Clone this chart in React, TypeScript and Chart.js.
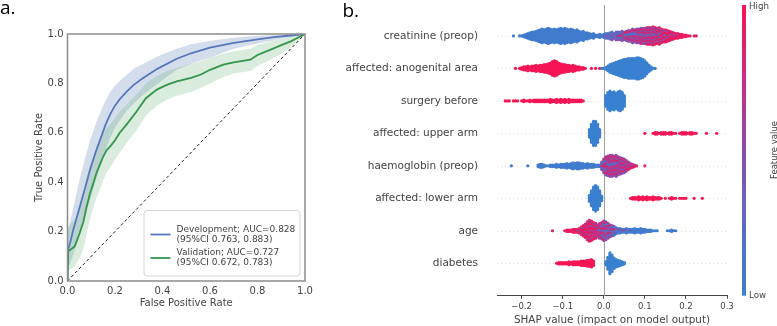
import React, { useEffect, useRef } from "react";
import { Chart, registerables } from "chart.js";

Chart.register(...registerables);

const FONT = "'DejaVu Sans', 'Liberation Sans', sans-serif";

// ---------------- Panel a: ROC curves ----------------
const devFpr = [0, 0, 0.011, 0.025, 0.053, 0.075, 0.095, 0.12, 0.137, 0.16, 0.18, 0.2, 0.22, 0.25, 0.28, 0.32, 0.38, 0.46, 0.52, 0.6, 0.7, 0.8, 0.87, 0.95, 1];
const devTpr = [0, 0.12, 0.155, 0.21, 0.305, 0.38, 0.45, 0.525, 0.571, 0.632, 0.676, 0.71, 0.736, 0.768, 0.795, 0.823, 0.86, 0.9, 0.922, 0.945, 0.964, 0.978, 0.987, 0.995, 1];
const devLo = [0, 0.05, 0.07, 0.11, 0.19, 0.26, 0.33, 0.41, 0.46, 0.53, 0.58, 0.62, 0.65, 0.69, 0.72, 0.755, 0.8, 0.855, 0.88, 0.905, 0.94, 0.962, 0.975, 0.99, 1];
const devHi = [0, 0.2, 0.24, 0.3, 0.42, 0.5, 0.57, 0.64, 0.68, 0.73, 0.765, 0.79, 0.81, 0.835, 0.86, 0.88, 0.91, 0.94, 0.958, 0.973, 0.985, 0.993, 0.996, 0.999, 1];

const valFpr = [0, 0.003, 0.03, 0.05, 0.067, 0.08, 0.095, 0.11, 0.123, 0.14, 0.151, 0.165, 0.18, 0.2, 0.22, 0.25, 0.29, 0.33, 0.376, 0.42, 0.46, 0.52, 0.56, 0.6, 0.656, 0.7, 0.77, 0.8, 0.853, 0.9, 0.94, 0.98, 1];
const valTpr = [0, 0.12, 0.14, 0.19, 0.24, 0.3, 0.355, 0.4, 0.44, 0.48, 0.505, 0.53, 0.545, 0.57, 0.6, 0.635, 0.685, 0.74, 0.775, 0.795, 0.808, 0.822, 0.835, 0.855, 0.876, 0.885, 0.896, 0.915, 0.936, 0.955, 0.97, 0.99, 1];
const valLo = [0, 0.04, 0.06, 0.09, 0.13, 0.19, 0.25, 0.3, 0.34, 0.38, 0.41, 0.44, 0.46, 0.49, 0.52, 0.56, 0.61, 0.67, 0.71, 0.735, 0.75, 0.765, 0.78, 0.8, 0.825, 0.84, 0.85, 0.87, 0.895, 0.92, 0.945, 0.98, 1];
const valHi = [0, 0.22, 0.25, 0.3, 0.36, 0.42, 0.47, 0.51, 0.55, 0.58, 0.6, 0.62, 0.635, 0.66, 0.685, 0.715, 0.755, 0.8, 0.83, 0.85, 0.862, 0.88, 0.89, 0.905, 0.92, 0.93, 0.94, 0.955, 0.97, 0.98, 0.99, 0.998, 1];

const rocTicks = [0, 0.2, 0.4, 0.6, 0.8, 1.0];
const devLegend = ["Development; AUC=0.828", "(95%CI 0.763, 0.883)"];
const valLegend = ["Validation; AUC=0.727", "(95%CI 0.672, 0.783)"];

// ---------------- Panel b: SHAP beeswarm ----------------
const featureNames = [
  "creatinine (preop)",
  "affected: anogenital area",
  "surgery before",
  "affected: upper arm",
  "haemoglobin (preop)",
  "affected: lower arm",
  "age",
  "diabetes",
];
const shapTicks = [-0.2, -0.1, 0.0, 0.1, 0.2, 0.3];
const BIN = 0.005; // SHAP bin width of the count arrays below

// counts of points per SHAP bin, starting at the given SHAP value
const creatLowStart = -0.22;
const creatLow = [1, 0, 0, 1, 1, 2, 3, 4, 5, 6, 6, 7, 8, 9, 10, 9, 10, 11, 10, 9, 10, 9, 10, 11, 10, 11, 10, 9, 10, 9, 8, 9, 7, 6, 7, 5, 5, 4, 3, 4, 2, 2, 3, 2,
  2, 3, 2, 3, 3, 2, 3, 2, 2, 2, 1, 1, 1, 1, 1, 1, 1, 0, 1, 1, 0, 1, 1, 0, 1, 1, 0, 1, 0, 0, 1];
const creatMidStart = 0.0;
const creatMid = [1, 1, 2, 2, 3, 2, 3, 3, 3, 4, 3, 4, 4, 5, 6, 5, 6, 6, 5, 6, 6, 5, 5, 6, 5, 5, 5, 4, 4, 3, 2, 2, 1, 1, 1, 1];
const creatHighStart = 0.0;
const creatHigh = [0, 0, 0, 0, 0, 0, 0, 1, 1, 1, 2, 2, 3, 2, 3, 3, 3, 4, 5, 4, 5, 6, 6, 6, 7, 6, 6, 7, 6, 6, 6, 6, 6, 5, 4, 3, 4, 3, 3, 2, 2, 1, 1, 0, 1, 1];

const anoHighStart = -0.215;
const anoHigh = [1, 0, 1, 2, 3, 3, 4, 3, 4, 4, 5, 4, 5, 5, 6, 6, 7, 8, 10, 11, 10, 8, 7, 6, 6, 5, 5, 4, 5, 4, 3, 3, 2, 2, 1, 0, 0, 1, 0, 1, 0, 1];
const anoLowStart = -0.005;
const anoLow = [1, 1, 2, 4, 6, 7, 8, 9, 10, 11, 12, 13, 13, 14, 14, 14, 14, 15, 15, 14, 13, 11, 8, 5, 3, 1, 1];

const surgHighStart = -0.24;
const surgHigh = [1, 1, 1, 0, 1, 1, 1, 0, 1, 2, 1, 1, 2, 1, 2, 2, 2, 2, 2, 2, 2, 2, 3, 2, 2, 3, 2, 3, 2, 3, 2, 3, 2, 2, 2, 2, 2, 2, 1];
const surgLowStart = 0.005;
const surgLow = [8, 12, 14, 12, 13, 11, 13, 14, 12, 8];

const upperLowStart = -0.035;
const upperLow = [6, 13, 17, 17, 13, 6];
const upperHighStart = 0.1;
const upperHigh = [1, 0, 0, 0, 1, 2, 2, 1, 2, 2, 2, 1, 2, 2, 1, 1, 0, 1, 2, 2, 2, 1, 2, 2, 1, 1, 0, 0, 0, 0, 1, 0, 0, 0, 0, 1];

const haemoLowStart = -0.225;
const haemoLow = [1, 0, 0, 0, 0, 0, 0, 0, 1, 0, 0, 0, 0, 2, 3, 3, 2, 1, 1, 2, 2, 2, 3, 2, 3, 3, 3, 4, 3, 4, 5, 4, 5, 5, 4, 4, 3, 4, 3, 3, 3, 2, 2, 2, 2, 2, 2, 1, 1, 1, 1, 1];
const haemoMidStart = -0.005;
const haemoMid = [3, 5, 7, 8, 8, 9, 8, 9, 8, 8, 7, 6, 5, 3, 2, 1, 1];
const haemoHighStart = -0.005;
const haemoHigh = [1, 3, 4, 5, 6, 5, 5, 5, 5, 4, 4, 4, 3, 3, 2, 2, 1, 1, 0, 0, 0, 1];

const lowerLowStart = -0.035;
const lowerLow = [5, 11, 16, 18, 16, 11, 4];
const lowerHighStart = 0.065;
const lowerHigh = [1, 2, 2, 2, 3, 2, 3, 2, 3, 2, 2, 3, 2, 2, 2, 1, 0, 1, 0, 1, 2, 1, 1, 0, 1, 1, 1, 1, 0, 0, 0, 1, 0, 0, 0, 1];

const ageHighStart = -0.125;
const ageHigh = [1, 0, 0, 0, 0, 0, 1, 2, 2, 2, 3, 3, 2, 3, 4, 6, 7, 9, 10, 9, 7, 6, 4, 4, 4, 4, 3, 2, 2, 1, 1];
const ageMidStart = -0.07;
const ageMid = [0, 1, 1, 2, 2, 3, 4, 5, 5, 5, 5, 5, 6, 6, 7, 7, 6, 5, 4, 3, 2, 1, 1, 1, 1, 1, 0, 1];
const ageLowStart = -0.01;
const ageLow = [1, 2, 3, 3, 3, 2, 3, 3, 3, 3, 3, 2, 2, 3, 3, 2, 3, 4, 3, 3, 4, 3, 3, 2, 2, 2, 1, 1, 1, 0, 0, 0, 0, 1, 1, 2, 1, 1];

const diabHighStart = -0.115;
const diabHigh = [1, 2, 2, 2, 2, 2, 3, 2, 3, 3, 3, 3, 4, 4, 4, 5, 5, 6, 4];
const diabLowStart = 0.005;
const diabLow = [3, 9, 15, 12, 8, 6, 5, 4, 3, 2];

// row index, normalised feature value, start, counts
const groups = [
  { row: 0, fv: 0.05, start: creatLowStart, counts: creatLow },
  { row: 0, fv: 0.48, start: creatMidStart, counts: creatMid },
  { row: 0, fv: 0.92, start: creatHighStart, counts: creatHigh },
  { row: 1, fv: 1, start: anoHighStart, counts: anoHigh },
  { row: 1, fv: 0, start: anoLowStart, counts: anoLow },
  { row: 2, fv: 1, start: surgHighStart, counts: surgHigh },
  { row: 2, fv: 0, start: surgLowStart, counts: surgLow },
  { row: 3, fv: 0, start: upperLowStart, counts: upperLow },
  { row: 3, fv: 1, start: upperHighStart, counts: upperHigh },
  { row: 4, fv: 0.05, start: haemoLowStart, counts: haemoLow },
  { row: 4, fv: 0.5, start: haemoMidStart, counts: haemoMid },
  { row: 4, fv: 0.92, start: haemoHighStart, counts: haemoHigh },
  { row: 5, fv: 0, start: lowerLowStart, counts: lowerLow },
  { row: 5, fv: 1, start: lowerHighStart, counts: lowerHigh },
  { row: 6, fv: 0.95, start: ageHighStart, counts: ageHigh },
  { row: 6, fv: 0.55, start: ageMidStart, counts: ageMid },
  { row: 6, fv: 0.05, start: ageLowStart, counts: ageLow },
  { row: 7, fv: 1, start: diabHighStart, counts: diabHigh },
  { row: 7, fv: 0, start: diabLowStart, counts: diabLow },
];

// ---------------- styling helpers ----------------
const CMAP: number[][] = [
  [0, 58, 128, 208],
  [0.25, 95, 105, 200],
  [0.5, 138, 78, 172],
  [0.75, 205, 45, 128],
  [1, 245, 22, 85],
];
function cmap(t: number): string {
  for (let i = 1; i < CMAP.length; i++) {
    if (t <= CMAP[i][0]) {
      const a = CMAP[i - 1], b = CMAP[i];
      const f = (t - a[0]) / (b[0] - a[0]);
      const c = [1, 2, 3].map((j) => Math.round(a[j] + (b[j] - a[j]) * f));
      return `rgb(${c[0]},${c[1]},${c[2]})`;
    }
  }
  const l = CMAP[CMAP.length - 1];
  return `rgb(${l[1]},${l[2]},${l[3]})`;
}

const DY = 0.0462; // vertical stacking step in row units (~1.5px)

function buildSwarm() {
  const rows: Map<number, { fv: number; key: number; g: number }[]>[] = featureNames.map(() => new Map());
  groups.forEach((g, gi) => {
    g.counts.forEach((c, i) => {
      if (!c) return;
      const k = Math.round(g.start / BIN) + i;
      const m = rows[g.row];
      if (!m.has(k)) m.set(k, []);
      const arr = m.get(k)!;
      for (let j = 0; j < c; j++) arr.push({ fv: g.fv, key: (j + 0.5) / c, g: gi });
    });
  });
  return rows.map((m, r) => {
    const pts: { x: number; y: number }[] = [];
    const cols: string[] = [];
    Array.from(m.keys())
      .sort((a, b) => a - b)
      .forEach((k) => {
        const items = m.get(k)!.slice().sort((a, b) => a.key - b.key || a.g - b.g);
        const n = items.length;
        items.forEach((it, j) => {
          pts.push({ x: k * BIN, y: r + (j - (n - 1) / 2) * DY });
          cols.push(cmap(it.fv));
        });
      });
    return { pts, cols };
  });
}

const zip = (xs: number[], ys: number[]) => xs.map((x, i) => ({ x, y: ys[i] }));
const fmtMinus = (v: number) => {
  const r = Math.round(v * 10) / 10;
  return r < 0 ? "\u2212" + Math.abs(r).toFixed(1) : Math.abs(r).toFixed(1);
};

const BLUE = "#5577bb";
const GREEN = "#33964a";
const TEXT = "#444444";

// ---------------- Components ----------------
function RocChart() {
  const ref = useRef<HTMLCanvasElement | null>(null);
  useEffect(() => {
    const canvas = ref.current!;
    const decor = {
      id: "rocDecor",
      afterDraw(chart: any) {
        const { ctx, chartArea: a } = chart;
        ctx.save();
        // frame
        ctx.strokeStyle = "#8c8c8c";
        ctx.lineWidth = 1.5;
        ctx.strokeRect(a.left, a.top, a.right - a.left, a.bottom - a.top);
        // titles
        ctx.fillStyle = TEXT;
        ctx.font = `10px ${FONT}`;
        ctx.textAlign = "center";
        ctx.textBaseline = "middle";
        ctx.fillText("False Positive Rate", (a.left + a.right) / 2, 303);
        ctx.save();
        ctx.translate(39, (a.top + a.bottom) / 2);
        ctx.rotate(-Math.PI / 2);
        ctx.fillText("True Positive Rate", 0, 0);
        ctx.restore();
        // legend
        const lx = 144, ly = 210.5, lw = 156, lh = 65.5, rr = 3;
        ctx.beginPath();
        ctx.moveTo(lx + rr, ly);
        ctx.arcTo(lx + lw, ly, lx + lw, ly + lh, rr);
        ctx.arcTo(lx + lw, ly + lh, lx, ly + lh, rr);
        ctx.arcTo(lx, ly + lh, lx, ly, rr);
        ctx.arcTo(lx, ly, lx + lw, ly, rr);
        ctx.closePath();
        ctx.fillStyle = "rgba(255,255,255,0.85)";
        ctx.fill();
        ctx.strokeStyle = "#d6d6d6";
        ctx.lineWidth = 1;
        ctx.stroke();
        const entries: [string, string[], number][] = [
          [BLUE, devLegend, 234.5],
          [GREEN, valLegend, 258],
        ];
        entries.forEach(([col, lines, y]) => {
          ctx.strokeStyle = col;
          ctx.lineWidth = 1.8;
          ctx.beginPath();
          ctx.moveTo(150.5, y);
          ctx.lineTo(170.5, y);
          ctx.stroke();
          ctx.fillStyle = TEXT;
          ctx.font = `9px ${FONT}`;
          ctx.textAlign = "left";
          ctx.textBaseline = "middle";
          ctx.fillText(lines[0], 176.5, y - 5.2);
          ctx.fillText(lines[1], 176.5, y + 4.8);
        });
        // panel letter
        ctx.fillStyle = "#000";
        ctx.font = `19px 'Open Sans', sans-serif`;
        ctx.textAlign = "left";
        ctx.textBaseline = "alphabetic";
        ctx.fillText("a.", 0, 13.5);
        ctx.restore();
      },
    };
    const line = (data: any[], extra: any) => ({
      data,
      pointRadius: 0,
      pointHoverRadius: 0,
      tension: 0,
      fill: false,
      ...extra,
    });
    const chart = new Chart(canvas, {
      type: "line",
      data: {
        datasets: [
          line(zip(devFpr, devHi), { fill: "+1", backgroundColor: "rgba(76,114,176,0.24)", borderColor: "transparent", borderWidth: 0, order: 5 }),
          line(zip(devFpr, devLo), { borderColor: "transparent", borderWidth: 0, order: 5 }),
          line(zip(valFpr, valHi), { fill: "+1", backgroundColor: "rgba(85,168,104,0.22)", borderColor: "transparent", borderWidth: 0, order: 4 }),
          line(zip(valFpr, valLo), { borderColor: "transparent", borderWidth: 0, order: 4 }),
          line([{ x: 0, y: 0 }, { x: 1, y: 1 }], { borderColor: "#222", borderWidth: 1, borderDash: [3, 2.5], order: 3 }),
          line(zip(devFpr, devTpr), { borderColor: BLUE, borderWidth: 1.8, order: 1 }),
          line(zip(valFpr, valTpr), { borderColor: GREEN, borderWidth: 1.8, order: 0 }),
        ],
      },
      options: {
        animation: false,
        responsive: false,
        events: [],
        layout: { padding: { left: 0, top: 34, right: 15, bottom: 0 } },
        plugins: { legend: { display: false }, tooltip: { enabled: false } },
        scales: {
          x: {
            type: "linear",
            min: 0,
            max: 1,
            afterBuildTicks: (s: any) => {
              s.ticks = rocTicks.map((v) => ({ value: v }));
            },
            afterFit: (s: any) => {
              s.height = 45;
            },
            grid: { display: false, drawTicks: false, tickLength: 0 },
            border: { display: false },
            ticks: { padding: 4, color: TEXT, font: { family: FONT, size: 10 }, callback: (v: any) => Number(v).toFixed(1) },
          },
          y: {
            type: "linear",
            min: 0,
            max: 1,
            afterBuildTicks: (s: any) => {
              s.ticks = rocTicks.map((v) => ({ value: v }));
            },
            afterFit: (s: any) => {
              s.width = 67.5;
            },
            grid: { display: false, drawTicks: false, tickLength: 0 },
            border: { display: false },
            ticks: { padding: 4, color: TEXT, font: { family: FONT, size: 10 }, callback: (v: any) => Number(v).toFixed(1) },
          },
        },
      },
      plugins: [decor],
    } as any);
    return () => chart.destroy();
  }, []);
  return <canvas ref={ref} width={320} height={326} style={{ position: "absolute", left: 0, top: 0 }} />;
}

function ShapChart() {
  const ref = useRef<HTMLCanvasElement | null>(null);
  useEffect(() => {
    const canvas = ref.current!;
    const swarm = buildSwarm();
    const decor = {
      id: "shapDecor",
      beforeDatasetsDraw(chart: any) {
        const { ctx, chartArea: a, scales } = chart;
        ctx.save();
        ctx.strokeStyle = "#d4d4d4";
        ctx.lineWidth = 0.8;
        ctx.setLineDash([1, 3]);
        featureNames.forEach((_, r) => {
          const y = Math.round(scales.y.getPixelForValue(r)) + 0.5;
          ctx.beginPath();
          ctx.moveTo(a.left, y);
          ctx.lineTo(a.right, y);
          ctx.stroke();
        });
        ctx.setLineDash([]);
        ctx.strokeStyle = "#a0a0a0";
        ctx.lineWidth = 1;
        const x0 = Math.round(scales.x.getPixelForValue(0)) + 0.5;
        ctx.beginPath();
        ctx.moveTo(x0, a.top + 1.5);
        ctx.lineTo(x0, a.bottom);
        ctx.stroke();
        ctx.restore();
      },
      afterDraw(chart: any) {
        const { ctx, chartArea: a, scales } = chart;
        ctx.save();
        // feature labels
        ctx.fillStyle = TEXT;
        ctx.font = `10.5px ${FONT}`;
        ctx.textAlign = "right";
        ctx.textBaseline = "middle";
        featureNames.forEach((name, r) => {
          ctx.fillText(name, 158, scales.y.getPixelForValue(r));
        });
        // x title
        ctx.textAlign = "center";
        ctx.font = `10.4px ${FONT}`;
        ctx.fillText("SHAP value (impact on model output)", (a.left + a.right) / 2, 320);
        // colour bar
        const cbx = 422, cbw = 4, cbt = 5, cbb = 295.7;
        const grad = ctx.createLinearGradient(0, cbb, 0, cbt);
        CMAP.forEach((s) => grad.addColorStop(s[0], `rgb(${s[1]},${s[2]},${s[3]})`));
        ctx.fillStyle = grad;
        ctx.fillRect(cbx, cbt, cbw, cbb - cbt);
        ctx.fillStyle = TEXT;
        ctx.font = `8.7px ${FONT}`;
        ctx.textAlign = "left";
        ctx.textBaseline = "middle";
        ctx.fillText("High", 429, 6.5);
        ctx.fillText("Low", 429, 296);
        ctx.save();
        ctx.translate(456.5, 150);
        ctx.rotate(-Math.PI / 2);
        ctx.textAlign = "center";
        ctx.textBaseline = "alphabetic";
        ctx.font = `8.5px ${FONT}`;
        ctx.fillText("Feature value", 0, 0);
        ctx.restore();
        // panel letter
        ctx.fillStyle = "#000";
        ctx.font = `19px 'Open Sans', sans-serif`;
        ctx.textAlign = "left";
        ctx.textBaseline = "alphabetic";
        ctx.fillText("b.", 22.5, 16.5);
        ctx.restore();
      },
    };
    const chart = new Chart(canvas, {
      type: "scatter",
      data: {
        datasets: swarm.map((s) => ({
          data: s.pts,
          pointBackgroundColor: s.cols,
          pointBorderWidth: 0,
          pointBorderColor: "transparent",
          pointRadius: 1.6,
          pointHoverRadius: 1.6,
        })),
      },
      options: {
        animation: false,
        responsive: false,
        events: [],
        layout: { padding: { left: 177, top: 3.5, right: 50, bottom: 0 } },
        plugins: { legend: { display: false }, tooltip: { enabled: false } },
        scales: {
          x: {
            type: "linear",
            min: -0.26,
            max: 0.3,
            afterBuildTicks: (s: any) => {
              s.ticks = shapTicks.map((v) => ({ value: v }));
            },
            afterFit: (s: any) => {
              s.height = 30.3;
            },
            grid: { drawOnChartArea: false, drawTicks: true, tickLength: 3, color: "#444" },
            border: { display: true, color: "#444", width: 1 },
            ticks: { padding: 2.5, color: TEXT, font: { family: FONT, size: 8.5 }, callback: (v: any) => fmtMinus(Number(v)) },
          },
          y: { type: "linear", min: -1, max: 8, reverse: true, display: false },
        },
      },
      plugins: [decor],
    } as any);
    return () => chart.destroy();
  }, []);
  return <canvas ref={ref} width={457} height={326} style={{ position: "absolute", left: 320, top: 0 }} />;
}

export default function App() {
  return (
    <div style={{ position: "fixed", left: 0, top: 0, width: 777, height: 326, background: "#fff", overflow: "hidden" }}>
      <RocChart />
      <ShapChart />
    </div>
  );
}
